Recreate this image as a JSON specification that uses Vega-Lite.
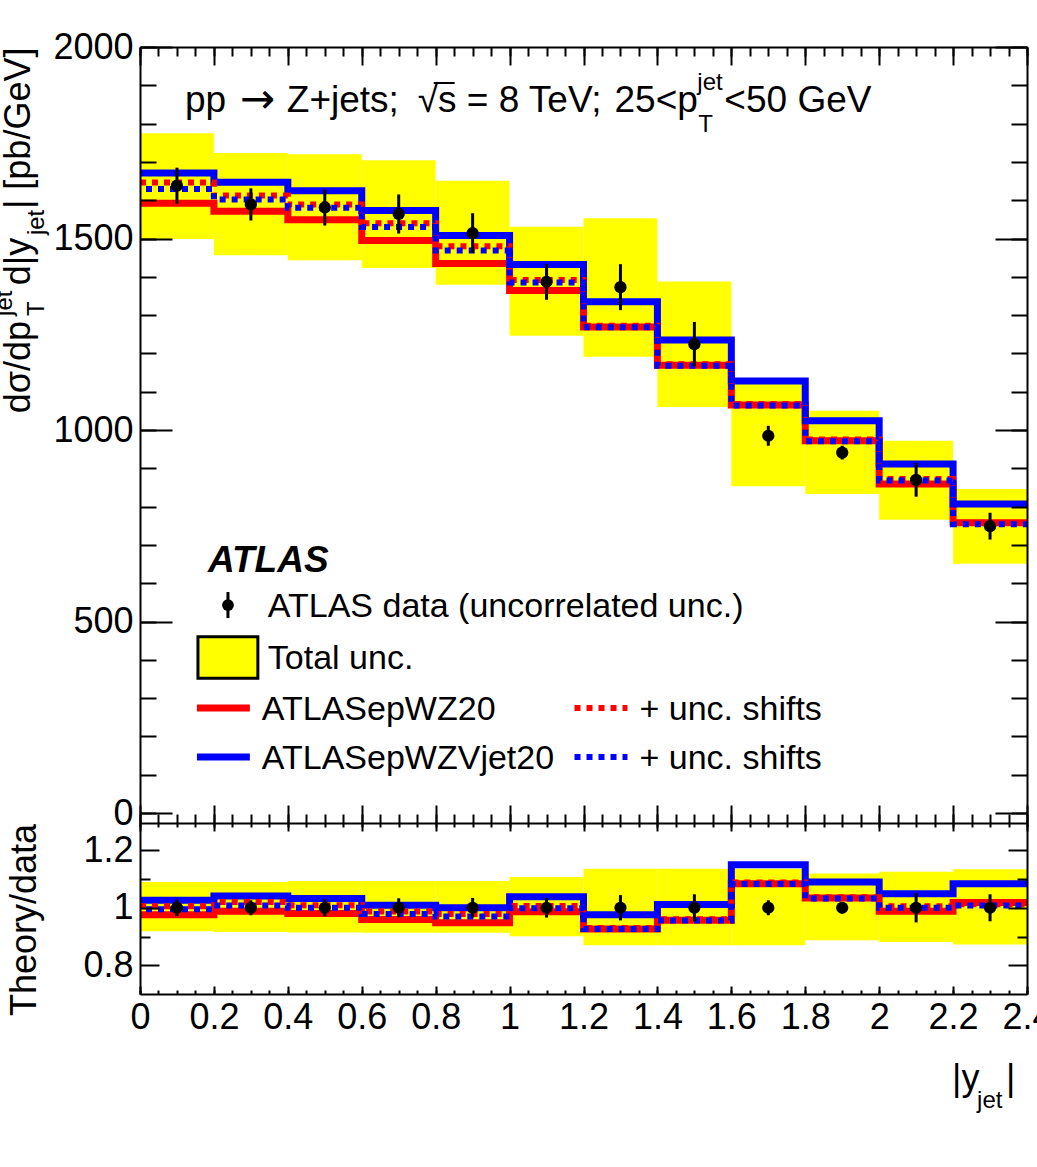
{
  "$schema": "https://vega.github.io/schema/vega-lite/v6.json",
  "autosize": {"type": "none"},
  "padding": {"left": 140, "top": 47, "right": 10, "bottom": 173},
  "width": 887,
  "height": 947,
  "background": "white",
  "config": {
    "font": "Liberation Sans",
    "view": {"stroke": null},
    "axis": {"labelFont": "Liberation Sans", "labelFontSize": 36, "labelColor": "black", "tickColor": "black", "tickWidth": 2, "grid": false, "domain": false, "domainColor": "black", "domainWidth": 2, "labelFlush": false, "labelOverlap": false},
    "text": {"font": "Liberation Sans", "color": "black"}
  },
  "datasets": {
    "bins": [
      {"lo": 0, "hi": 0.2, "c": 0.1, "data": 1638, "err": 47, "tot_lo": 1499, "tot_hi": 1775, "red": 1592, "blue": 1671, "red_s": 1646, "blue_s": 1629, "r_data": 1, "r_err": 0.029, "r_tot_lo": 0.918, "r_tot_hi": 1.090, "r_red": 0.976, "r_blue": 1.026, "r_red_s": 1.005, "r_blue_s": 0.995},
      {"lo": 0.2, "hi": 0.4, "c": 0.3, "data": 1589, "err": 42, "tot_lo": 1456, "tot_hi": 1723, "red": 1571, "blue": 1647, "red_s": 1612, "blue_s": 1602, "r_data": 1, "r_err": 0.026, "r_tot_lo": 0.916, "r_tot_hi": 1.090, "r_red": 0.988, "r_blue": 1.041, "r_red_s": 1.020, "r_blue_s": 1.008},
      {"lo": 0.4, "hi": 0.6, "c": 0.5, "data": 1581, "err": 47, "tot_lo": 1443, "tot_hi": 1720, "red": 1549, "blue": 1625, "red_s": 1589, "blue_s": 1580, "r_data": 1, "r_err": 0.030, "r_tot_lo": 0.914, "r_tot_hi": 1.093, "r_red": 0.980, "r_blue": 1.032, "r_red_s": 1.009, "r_blue_s": 1.000},
      {"lo": 0.6, "hi": 0.8, "c": 0.7, "data": 1564, "err": 51, "tot_lo": 1423, "tot_hi": 1704, "red": 1495, "blue": 1573, "red_s": 1540, "blue_s": 1530, "r_data": 1, "r_err": 0.033, "r_tot_lo": 0.913, "r_tot_hi": 1.093, "r_red": 0.959, "r_blue": 1.009, "r_red_s": 0.987, "r_blue_s": 0.978},
      {"lo": 0.8, "hi": 1.0, "c": 0.9, "data": 1514, "err": 52, "tot_lo": 1379, "tot_hi": 1651, "red": 1435, "blue": 1508, "red_s": 1480, "blue_s": 1469, "r_data": 1, "r_err": 0.034, "r_tot_lo": 0.913, "r_tot_hi": 1.093, "r_red": 0.948, "r_blue": 1.000, "r_red_s": 0.978, "r_blue_s": 0.970},
      {"lo": 1.0, "hi": 1.2, "c": 1.1, "data": 1387, "err": 47, "tot_lo": 1246, "tot_hi": 1531, "red": 1364, "blue": 1432, "red_s": 1392, "blue_s": 1385, "r_data": 1, "r_err": 0.034, "r_tot_lo": 0.901, "r_tot_hi": 1.107, "r_red": 0.986, "r_blue": 1.038, "r_red_s": 1.006, "r_blue_s": 0.998},
      {"lo": 1.2, "hi": 1.4, "c": 1.3, "data": 1373, "err": 60, "tot_lo": 1191, "tot_hi": 1553, "red": 1269, "blue": 1335, "red_s": 1272, "blue_s": 1268, "r_data": 1, "r_err": 0.044, "r_tot_lo": 0.870, "r_tot_hi": 1.136, "r_red": 0.926, "r_blue": 0.976, "r_red_s": 0.930, "r_blue_s": 0.926},
      {"lo": 1.4, "hi": 1.6, "c": 1.5, "data": 1224, "err": 58, "tot_lo": 1060, "tot_hi": 1388, "red": 1169, "blue": 1235, "red_s": 1172, "blue_s": 1168, "r_data": 1, "r_err": 0.047, "r_tot_lo": 0.870, "r_tot_hi": 1.136, "r_red": 0.957, "r_blue": 1.011, "r_red_s": 0.960, "r_blue_s": 0.956},
      {"lo": 1.6, "hi": 1.8, "c": 1.7, "data": 985, "err": 26, "tot_lo": 853, "tot_hi": 1122, "red": 1065, "blue": 1128, "red_s": 1068, "blue_s": 1064, "r_data": 1, "r_err": 0.026, "r_tot_lo": 0.870, "r_tot_hi": 1.136, "r_red": 1.084, "r_blue": 1.150, "r_red_s": 1.088, "r_blue_s": 1.083},
      {"lo": 1.8, "hi": 2.0, "c": 1.9, "data": 941, "err": 18, "tot_lo": 833, "tot_hi": 1050, "red": 972, "blue": 1024, "red_s": 975, "blue_s": 971, "r_data": 1, "r_err": 0.019, "r_tot_lo": 0.887, "r_tot_hi": 1.119, "r_red": 1.034, "r_blue": 1.090, "r_red_s": 1.037, "r_blue_s": 1.032},
      {"lo": 2.0, "hi": 2.2, "c": 2.1, "data": 870, "err": 44, "tot_lo": 766, "tot_hi": 972, "red": 859, "blue": 911, "red_s": 872, "blue_s": 868, "r_data": 1, "r_err": 0.051, "r_tot_lo": 0.881, "r_tot_hi": 1.125, "r_red": 0.988, "r_blue": 1.049, "r_red_s": 1.005, "r_blue_s": 1.000},
      {"lo": 2.2, "hi": 2.4, "c": 2.3, "data": 749, "err": 35, "tot_lo": 651, "tot_hi": 846, "red": 758, "blue": 807, "red_s": 757, "blue_s": 754, "r_data": 1, "r_err": 0.047, "r_tot_lo": 0.872, "r_tot_hi": 1.134, "r_red": 1.018, "r_blue": 1.084, "r_red_s": 1.012, "r_blue_s": 1.008}
    ]
  },
  "resolve": {"scale": {"y": "independent"}, "axis": {"x": "independent", "y": "independent"}},
  "layer": [
    {
      "resolve": {"axis": {"x": "independent", "y": "independent"}},
      "layer": [
        {
          "data": {"name": "bins"},
          "mark": {"type": "rect", "color": "#ffff00"},
          "encoding": {
            "x": {"field": "lo", "type": "quantitative", "scale": {"domain": [0, 2.4], "nice": false, "zero": false},
              "axis": {"orient": "top", "values": [0, 0.2, 0.4, 0.6, 0.8, 1, 1.2, 1.4, 1.6, 1.8, 2, 2.2, 2.4], "tickSize": -18, "labels": false, "domain": true, "title": null, "zindex": 1}},
            "x2": {"field": "hi"},
            "y": {"field": "tot_lo", "type": "quantitative", "scale": {"domain": [-26, 2000], "range": [776, 0], "nice": false, "zero": false},
              "axis": {"orient": "left", "values": [0, 500, 1000, 1500, 2000], "ticks": false, "labelPadding": 7, "format": "d", "title": null, "zindex": 1}},
            "y2": {"field": "tot_hi"}
          }
        },
        {
          "data": {"name": "bins"},
          "transform": [{"fold": ["lo", "hi"], "as": ["edge_kind", "edge"]}],
          "mark": {"type": "line", "color": "#ff0000", "strokeWidth": 7, "strokeJoin": "miter", "strokeCap": "butt"},
          "encoding": {
            "x": {"field": "edge", "type": "quantitative",
              "axis": {"orient": "top", "values": [0, 0.05, 0.1, 0.15, 0.2, 0.25, 0.3, 0.35, 0.4, 0.45, 0.5, 0.55, 0.6, 0.65, 0.7, 0.75, 0.8, 0.85, 0.9, 0.95, 1, 1.05, 1.1, 1.15, 1.2, 1.25, 1.3, 1.35, 1.4, 1.45, 1.5, 1.55, 1.6, 1.65, 1.7, 1.75, 1.8, 1.85, 1.9, 1.95, 2, 2.05, 2.1, 2.15, 2.2, 2.25, 2.3, 2.35, 2.4], "tickSize": -9, "labels": false, "title": null, "zindex": 1}},
            "y": {"field": "red", "type": "quantitative",
              "axis": {"orient": "left", "values": [0, 500, 1000, 1500, 2000], "tickSize": -32, "labels": false, "domain": true, "title": null, "zindex": 1}},
            "order": {"value": null}
          }
        },
        {
          "data": {"name": "bins"},
          "transform": [{"fold": ["lo", "hi"], "as": ["edge_kind", "edge"]}],
          "mark": {"type": "line", "color": "#0000ff", "strokeWidth": 7, "strokeJoin": "miter", "strokeCap": "butt"},
          "encoding": {
            "x": {"field": "edge", "type": "quantitative",
              "axis": {"orient": "bottom", "offset": -171, "values": [0, 0.2, 0.4, 0.6, 0.8, 1, 1.2, 1.4, 1.6, 1.8, 2, 2.2, 2.4], "tickSize": -18, "labels": false, "title": null, "zindex": 1}},
            "y": {"field": "blue", "type": "quantitative",
              "axis": {"orient": "left", "values": [0, 100, 200, 300, 400, 500, 600, 700, 800, 900, 1000, 1100, 1200, 1300, 1400, 1500, 1600, 1700, 1800, 1900, 2000], "tickSize": -16, "labels": false, "title": null, "zindex": 1}},
            "order": {"value": null}
          }
        },
        {
          "data": {"name": "bins"},
          "transform": [{"fold": ["lo", "hi"], "as": ["edge_kind", "edge"]}],
          "mark": {"type": "line", "color": "#ff0000", "strokeWidth": 6, "strokeDash": [6, 6], "strokeJoin": "miter", "strokeCap": "butt"},
          "encoding": {
            "x": {"field": "edge", "type": "quantitative",
              "axis": {"orient": "bottom", "offset": -171, "values": [0, 0.05, 0.1, 0.15, 0.2, 0.25, 0.3, 0.35, 0.4, 0.45, 0.5, 0.55, 0.6, 0.65, 0.7, 0.75, 0.8, 0.85, 0.9, 0.95, 1, 1.05, 1.1, 1.15, 1.2, 1.25, 1.3, 1.35, 1.4, 1.45, 1.5, 1.55, 1.6, 1.65, 1.7, 1.75, 1.8, 1.85, 1.9, 1.95, 2, 2.05, 2.1, 2.15, 2.2, 2.25, 2.3, 2.35, 2.4], "tickSize": -9, "labels": false, "title": null, "zindex": 1}},
            "y": {"field": "red_s", "type": "quantitative",
              "axis": {"orient": "right", "values": [0, 500, 1000, 1500, 2000], "tickSize": -32, "labels": false, "domain": true, "title": null, "zindex": 1}},
            "order": {"value": null}
          }
        },
        {
          "data": {"name": "bins"},
          "transform": [{"fold": ["lo", "hi"], "as": ["edge_kind", "edge"]}],
          "mark": {"type": "line", "color": "#0000ff", "strokeWidth": 6, "strokeDash": [6, 6], "strokeDashOffset": 6, "strokeJoin": "miter", "strokeCap": "butt"},
          "encoding": {
            "x": {"field": "edge", "type": "quantitative", "axis": null},
            "y": {"field": "blue_s", "type": "quantitative",
              "axis": {"orient": "right", "values": [0, 100, 200, 300, 400, 500, 600, 700, 800, 900, 1000, 1100, 1200, 1300, 1400, 1500, 1600, 1700, 1800, 1900, 2000], "tickSize": -16, "labels": false, "title": null, "zindex": 1}},
            "order": {"value": null}
          }
        },
        {
          "data": {"name": "bins"},
          "mark": {"type": "errorbar", "color": "black", "thickness": 3},
          "encoding": {
            "x": {"field": "c", "type": "quantitative", "axis": null},
            "y": {"field": "data", "type": "quantitative", "axis": null},
            "yError": {"field": "err"}
          }
        },
        {
          "data": {"name": "bins"},
          "mark": {"type": "point", "filled": true, "color": "black", "opacity": 1, "size": 150},
          "encoding": {
            "x": {"field": "c", "type": "quantitative", "axis": null},
            "y": {"field": "data", "type": "quantitative", "axis": null}
          }
        },
        {
          "data": {"values": [{}]},
          "mark": {"type": "text", "text": "pp", "fontSize": 37, "align": "left", "baseline": "alphabetic"},
          "encoding": {"x": {"datum": 0.1216, "type": "quantitative", "axis": null}, "y": {"datum": 1830, "type": "quantitative", "axis": null}}
        },
        {
          "data": {"values": [{}]},
          "mark": {"type": "text", "text": "→", "font": "DejaVu Sans", "fontSize": 42, "align": "left", "baseline": "alphabetic"},
          "encoding": {"x": {"datum": 0.2703, "type": "quantitative", "axis": null}, "y": {"datum": 1828, "type": "quantitative", "axis": null}}
        },
        {
          "data": {"values": [{}]},
          "mark": {"type": "text", "text": "Z+jets;", "fontSize": 37, "align": "left", "baseline": "alphabetic"},
          "encoding": {"x": {"datum": 0.3973, "type": "quantitative", "axis": null}, "y": {"datum": 1830, "type": "quantitative", "axis": null}}
        },
        {
          "data": {"values": [{}]},
          "mark": {"type": "text", "text": "√s = 8 TeV;", "fontSize": 37, "align": "left", "baseline": "alphabetic"},
          "encoding": {"x": {"datum": 0.7514, "type": "quantitative", "axis": null}, "y": {"datum": 1830, "type": "quantitative", "axis": null}}
        },
        {
          "data": {"values": [{}]},
          "mark": {"type": "rule", "color": "black", "strokeWidth": 2},
          "encoding": {"x": {"datum": 0.7946, "type": "quantitative", "axis": null}, "x2": {"datum": 0.8514}, "y": {"datum": 1906, "type": "quantitative", "axis": null}}
        },
        {
          "data": {"values": [{}]},
          "mark": {"type": "text", "text": "25<p", "fontSize": 37, "align": "left", "baseline": "alphabetic"},
          "encoding": {"x": {"datum": 1.2838, "type": "quantitative", "axis": null}, "y": {"datum": 1830, "type": "quantitative", "axis": null}}
        },
        {
          "data": {"values": [{}]},
          "mark": {"type": "text", "text": "jet", "fontSize": 24, "align": "left", "baseline": "alphabetic"},
          "encoding": {"x": {"datum": 1.5081, "type": "quantitative", "axis": null}, "y": {"datum": 1888, "type": "quantitative", "axis": null}}
        },
        {
          "data": {"values": [{}]},
          "mark": {"type": "text", "text": "T", "fontSize": 24, "align": "left", "baseline": "alphabetic"},
          "encoding": {"x": {"datum": 1.5108, "type": "quantitative", "axis": null}, "y": {"datum": 1778, "type": "quantitative", "axis": null}}
        },
        {
          "data": {"values": [{}]},
          "mark": {"type": "text", "text": "<50 GeV", "fontSize": 37, "align": "left", "baseline": "alphabetic"},
          "encoding": {"x": {"datum": 1.5811, "type": "quantitative", "axis": null}, "y": {"datum": 1830, "type": "quantitative", "axis": null}}
        },
        {
          "data": {"values": [{}]},
          "mark": {"type": "text", "text": "ATLAS", "fontSize": 37, "fontWeight": "bold", "fontStyle": "italic", "align": "left", "baseline": "alphabetic"},
          "encoding": {"x": {"datum": 0.184, "type": "quantitative", "axis": null}, "y": {"datum": 629, "type": "quantitative", "axis": null}}
        },
        {
          "data": {"values": [{}]},
          "mark": {"type": "rule", "color": "black", "strokeWidth": 3},
          "encoding": {"x": {"datum": 0.238, "type": "quantitative", "axis": null}, "y": {"datum": 577, "type": "quantitative", "axis": null}, "y2": {"datum": 509}}
        },
        {
          "data": {"values": [{}]},
          "mark": {"type": "point", "filled": true, "color": "black", "opacity": 1, "size": 140},
          "encoding": {"x": {"datum": 0.238, "type": "quantitative", "axis": null}, "y": {"datum": 543, "type": "quantitative", "axis": null}}
        },
        {
          "data": {"values": [{}]},
          "mark": {"type": "text", "text": "ATLAS data (uncorrelated unc.)", "fontSize": 34, "align": "left", "baseline": "alphabetic"},
          "encoding": {"x": {"datum": 0.3459, "type": "quantitative", "axis": null}, "y": {"datum": 512, "type": "quantitative", "axis": null}}
        },
        {
          "data": {"values": [{}]},
          "mark": {"type": "rect", "fill": "#ffff00", "stroke": "black", "strokeWidth": 3},
          "encoding": {"x": {"datum": 0.1568, "type": "quantitative", "axis": null}, "x2": {"datum": 0.3189}, "y": {"datum": 352, "type": "quantitative", "axis": null}, "y2": {"datum": 460}}
        },
        {
          "data": {"values": [{}]},
          "mark": {"type": "text", "text": "Total unc.", "fontSize": 34, "align": "left", "baseline": "alphabetic"},
          "encoding": {"x": {"datum": 0.3459, "type": "quantitative", "axis": null}, "y": {"datum": 376, "type": "quantitative", "axis": null}}
        },
        {
          "data": {"values": [{}]},
          "mark": {"type": "rule", "color": "#ff0000", "strokeWidth": 7},
          "encoding": {"x": {"datum": 0.1541, "type": "quantitative", "axis": null}, "x2": {"datum": 0.2973}, "y": {"datum": 274, "type": "quantitative", "axis": null}}
        },
        {
          "data": {"values": [{}]},
          "mark": {"type": "text", "text": "ATLASepWZ20", "fontSize": 34, "align": "left", "baseline": "alphabetic"},
          "encoding": {"x": {"datum": 0.3297, "type": "quantitative", "axis": null}, "y": {"datum": 243, "type": "quantitative", "axis": null}}
        },
        {
          "data": {"values": [{}]},
          "mark": {"type": "rule", "color": "#ff0000", "strokeWidth": 6, "strokeDash": [6, 6]},
          "encoding": {"x": {"datum": 1.1757, "type": "quantitative", "axis": null}, "x2": {"datum": 1.3189}, "y": {"datum": 274, "type": "quantitative", "axis": null}}
        },
        {
          "data": {"values": [{}]},
          "mark": {"type": "text", "text": "+ unc. shifts", "fontSize": 34, "align": "left", "baseline": "alphabetic"},
          "encoding": {"x": {"datum": 1.3514, "type": "quantitative", "axis": null}, "y": {"datum": 243, "type": "quantitative", "axis": null}}
        },
        {
          "data": {"values": [{}]},
          "mark": {"type": "rule", "color": "#0000ff", "strokeWidth": 7},
          "encoding": {"x": {"datum": 0.1541, "type": "quantitative", "axis": null}, "x2": {"datum": 0.2973}, "y": {"datum": 146, "type": "quantitative", "axis": null}}
        },
        {
          "data": {"values": [{}]},
          "mark": {"type": "text", "text": "ATLASepWZVjet20", "fontSize": 34, "align": "left", "baseline": "alphabetic"},
          "encoding": {"x": {"datum": 0.3297, "type": "quantitative", "axis": null}, "y": {"datum": 115, "type": "quantitative", "axis": null}}
        },
        {
          "data": {"values": [{}]},
          "mark": {"type": "rule", "color": "#0000ff", "strokeWidth": 6, "strokeDash": [6, 6]},
          "encoding": {"x": {"datum": 1.1757, "type": "quantitative", "axis": null}, "x2": {"datum": 1.3189}, "y": {"datum": 146, "type": "quantitative", "axis": null}}
        },
        {
          "data": {"values": [{}]},
          "mark": {"type": "text", "text": "+ unc. shifts", "fontSize": 34, "align": "left", "baseline": "alphabetic"},
          "encoding": {"x": {"datum": 1.3514, "type": "quantitative", "axis": null}, "y": {"datum": 115, "type": "quantitative", "axis": null}}
        },
        {
          "data": {"values": [{}]},
          "mark": {"type": "text", "text": "dσ/dp", "fontSize": 36, "angle": 270, "align": "left", "baseline": "alphabetic"},
          "encoding": {"x": {"datum": -0.2973, "type": "quantitative", "axis": null}, "y": {"datum": 1044, "type": "quantitative", "axis": null}}
        },
        {
          "data": {"values": [{}]},
          "mark": {"type": "text", "text": "T", "fontSize": 24, "angle": 270, "align": "left", "baseline": "alphabetic"},
          "encoding": {"x": {"datum": -0.2595, "type": "quantitative", "axis": null}, "y": {"datum": 1298, "type": "quantitative", "axis": null}}
        },
        {
          "data": {"values": [{}]},
          "mark": {"type": "text", "text": "jet", "fontSize": 24, "angle": 270, "align": "left", "baseline": "alphabetic"},
          "encoding": {"x": {"datum": -0.3459, "type": "quantitative", "axis": null}, "y": {"datum": 1298, "type": "quantitative", "axis": null}}
        },
        {
          "data": {"values": [{}]},
          "mark": {"type": "text", "text": "d|y", "fontSize": 36, "angle": 270, "align": "left", "baseline": "alphabetic"},
          "encoding": {"x": {"datum": -0.2973, "type": "quantitative", "axis": null}, "y": {"datum": 1378, "type": "quantitative", "axis": null}}
        },
        {
          "data": {"values": [{}]},
          "mark": {"type": "text", "text": "jet", "fontSize": 24, "angle": 270, "align": "left", "baseline": "alphabetic"},
          "encoding": {"x": {"datum": -0.2595, "type": "quantitative", "axis": null}, "y": {"datum": 1509, "type": "quantitative", "axis": null}}
        },
        {
          "data": {"values": [{}]},
          "mark": {"type": "text", "text": "| [pb/GeV]", "fontSize": 36, "angle": 270, "align": "left", "baseline": "alphabetic"},
          "encoding": {"x": {"datum": -0.2973, "type": "quantitative", "axis": null}, "y": {"datum": 1577, "type": "quantitative", "axis": null}}
        }
      ]
    },
    {
      "resolve": {"axis": {"x": "independent", "y": "independent"}},
      "layer": [
        {
          "data": {"name": "bins"},
          "mark": {"type": "rect", "color": "#ffff00"},
          "encoding": {
            "x": {"field": "lo", "type": "quantitative",
              "axis": {"orient": "bottom", "values": [0, 0.2, 0.4, 0.6, 0.8, 1, 1.2, 1.4, 1.6, 1.8, 2, 2.2, 2.4], "ticks": false, "labelPadding": 6, "format": "~g", "labelFlush": false, "labelOverlap": false, "title": null, "zindex": 1}},
            "x2": {"field": "hi"},
            "y": {"field": "r_tot_lo", "type": "quantitative", "scale": {"domain": [0.7, 1.295], "range": [947, 776], "nice": false, "zero": false},
              "axis": {"orient": "left", "values": [0.8, 1, 1.2], "ticks": false, "labelPadding": 7, "format": "~g", "title": null, "zindex": 1}},
            "y2": {"field": "r_tot_hi"}
          }
        },
        {
          "data": {"name": "bins"},
          "transform": [{"fold": ["lo", "hi"], "as": ["edge_kind", "edge"]}],
          "mark": {"type": "line", "color": "#ff0000", "strokeWidth": 7, "strokeJoin": "miter", "strokeCap": "butt"},
          "encoding": {
            "x": {"field": "edge", "type": "quantitative",
              "axis": {"orient": "bottom", "values": [0, 0.2, 0.4, 0.6, 0.8, 1, 1.2, 1.4, 1.6, 1.8, 2, 2.2, 2.4], "tickSize": -8, "labels": false, "domain": true, "title": null, "zindex": 1}},
            "y": {"field": "r_red", "type": "quantitative",
              "axis": {"orient": "left", "values": [0.8, 1, 1.2], "tickSize": -19, "labels": false, "domain": true, "title": null, "zindex": 1}},
            "order": {"value": null}
          }
        },
        {
          "data": {"name": "bins"},
          "transform": [{"fold": ["lo", "hi"], "as": ["edge_kind", "edge"]}],
          "mark": {"type": "line", "color": "#0000ff", "strokeWidth": 7, "strokeJoin": "miter", "strokeCap": "butt"},
          "encoding": {
            "x": {"field": "edge", "type": "quantitative",
              "axis": {"orient": "bottom", "values": [0, 0.05, 0.1, 0.15, 0.2, 0.25, 0.3, 0.35, 0.4, 0.45, 0.5, 0.55, 0.6, 0.65, 0.7, 0.75, 0.8, 0.85, 0.9, 0.95, 1, 1.05, 1.1, 1.15, 1.2, 1.25, 1.3, 1.35, 1.4, 1.45, 1.5, 1.55, 1.6, 1.65, 1.7, 1.75, 1.8, 1.85, 1.9, 1.95, 2, 2.05, 2.1, 2.15, 2.2, 2.25, 2.3, 2.35, 2.4], "tickSize": -4, "labels": false, "title": null, "zindex": 1}},
            "y": {"field": "r_blue", "type": "quantitative",
              "axis": {"orient": "left", "values": [0.9, 1.1], "tickSize": -10, "labels": false, "title": null, "zindex": 1}},
            "order": {"value": null}
          }
        },
        {
          "data": {"name": "bins"},
          "transform": [{"fold": ["lo", "hi"], "as": ["edge_kind", "edge"]}],
          "mark": {"type": "line", "color": "#ff0000", "strokeWidth": 6, "strokeDash": [6, 6], "strokeJoin": "miter", "strokeCap": "butt"},
          "encoding": {
            "x": {"field": "edge", "type": "quantitative",
              "axis": {"orient": "top", "offset": -776, "values": [0, 0.2, 0.4, 0.6, 0.8, 1, 1.2, 1.4, 1.6, 1.8, 2, 2.2, 2.4], "tickSize": -8, "labels": false, "domain": true, "title": null, "zindex": 1}},
            "y": {"field": "r_red_s", "type": "quantitative",
              "axis": {"orient": "right", "values": [0.8, 1, 1.2], "tickSize": -19, "labels": false, "domain": true, "title": null, "zindex": 1}},
            "order": {"value": null}
          }
        },
        {
          "data": {"name": "bins"},
          "transform": [{"fold": ["lo", "hi"], "as": ["edge_kind", "edge"]}],
          "mark": {"type": "line", "color": "#0000ff", "strokeWidth": 6, "strokeDash": [6, 6], "strokeDashOffset": 6, "strokeJoin": "miter", "strokeCap": "butt"},
          "encoding": {
            "x": {"field": "edge", "type": "quantitative",
              "axis": {"orient": "top", "offset": -776, "values": [0, 0.05, 0.1, 0.15, 0.2, 0.25, 0.3, 0.35, 0.4, 0.45, 0.5, 0.55, 0.6, 0.65, 0.7, 0.75, 0.8, 0.85, 0.9, 0.95, 1, 1.05, 1.1, 1.15, 1.2, 1.25, 1.3, 1.35, 1.4, 1.45, 1.5, 1.55, 1.6, 1.65, 1.7, 1.75, 1.8, 1.85, 1.9, 1.95, 2, 2.05, 2.1, 2.15, 2.2, 2.25, 2.3, 2.35, 2.4], "tickSize": -4, "labels": false, "title": null, "zindex": 1}},
            "y": {"field": "r_blue_s", "type": "quantitative",
              "axis": {"orient": "right", "values": [0.9, 1.1], "tickSize": -10, "labels": false, "title": null, "zindex": 1}},
            "order": {"value": null}
          }
        },
        {
          "data": {"name": "bins"},
          "mark": {"type": "errorbar", "color": "black", "thickness": 3},
          "encoding": {
            "x": {"field": "c", "type": "quantitative", "axis": null},
            "y": {"field": "r_data", "type": "quantitative", "axis": null},
            "yError": {"field": "r_err"}
          }
        },
        {
          "data": {"name": "bins"},
          "mark": {"type": "point", "filled": true, "color": "black", "opacity": 1, "size": 150},
          "encoding": {
            "x": {"field": "c", "type": "quantitative", "axis": null},
            "y": {"field": "r_data", "type": "quantitative", "axis": null}
          }
        },
        {
          "data": {"values": [{}]},
          "mark": {"type": "text", "text": "Theory/data", "fontSize": 36, "angle": 270, "align": "center", "baseline": "alphabetic"},
          "encoding": {"x": {"datum": -0.2811, "type": "quantitative", "axis": null}, "y": {"datum": 0.9575, "type": "quantitative", "axis": null}}
        },
        {
          "data": {"values": [{}]},
          "mark": {"type": "text", "text": "|y", "fontSize": 36, "align": "left", "baseline": "alphabetic"},
          "encoding": {"x": {"datum": 2.1973, "type": "quantitative", "axis": null}, "y": {"datum": 0.366, "type": "quantitative", "axis": null}}
        },
        {
          "data": {"values": [{}]},
          "mark": {"type": "text", "text": "jet", "fontSize": 24, "align": "left", "baseline": "alphabetic"},
          "encoding": {"x": {"datum": 2.2649, "type": "quantitative", "axis": null}, "y": {"datum": 0.303, "type": "quantitative", "axis": null}}
        },
        {
          "data": {"values": [{}]},
          "mark": {"type": "text", "text": "|", "fontSize": 36, "align": "left", "baseline": "alphabetic"},
          "encoding": {"x": {"datum": 2.3432, "type": "quantitative", "axis": null}, "y": {"datum": 0.366, "type": "quantitative", "axis": null}}
        }
      ]
    }
  ]
}
